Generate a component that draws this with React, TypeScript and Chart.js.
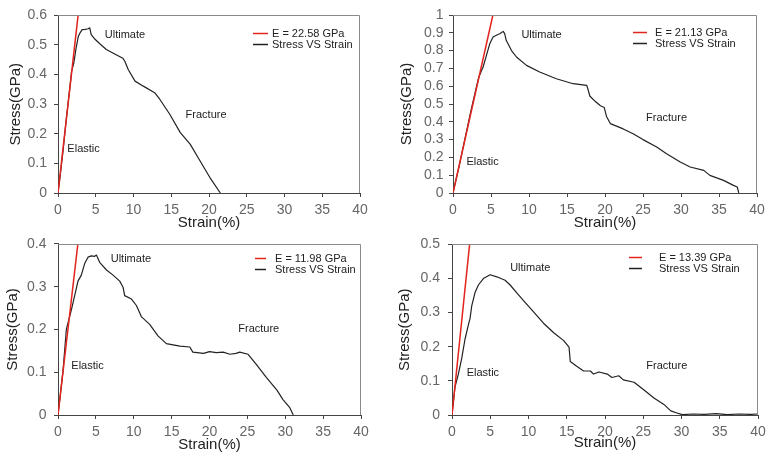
import React, { useEffect, useRef } from "react";
import { Chart, registerables } from "chart.js";

Chart.register(...registerables);

// ---------- data ----------
const xTickValues = [0, 5, 10, 15, 20, 25, 30, 35, 40];

const p1YTicks = [0, 0.1, 0.2, 0.3, 0.4, 0.5, 0.6];
const p2YTicks = [0, 0.1, 0.2, 0.3, 0.4, 0.5, 0.6, 0.7, 0.8, 0.9, 1];
const p3YTicks = [0, 0.1, 0.2, 0.3, 0.4];
const p4YTicks = [0, 0.1, 0.2, 0.3, 0.4, 0.5];

const fitLabels = ["E = 22.58 GPa", "E = 21.13 GPa", "E = 11.98 GPa", "E = 13.39 GPa"];
const curveLabel = "Stress VS Strain";
const regionLabels = ["Ultimate", "Fracture", "Elastic"];

// Panel 1
const p1FitStrain = [0, 2.66];
const p1FitStress = [0, 0.6];
const p1Strain = [0, 0.3, 0.7, 1.1, 1.5, 1.8, 2.1, 2.4, 2.7, 2.9, 3.2, 3.6, 4.0, 4.2, 4.4, 4.8, 5.5, 6.4, 7.7, 8.6, 8.85, 9.3, 10.2, 11.3, 12.8, 13.5, 14.8, 16.2, 17.5, 18.8, 20.1, 21.5];
const p1Stress = [0, 0.06, 0.15, 0.25, 0.34, 0.41, 0.44, 0.49, 0.53, 0.54, 0.552, 0.553, 0.555, 0.558, 0.535, 0.522, 0.505, 0.485, 0.467, 0.455, 0.445, 0.417, 0.378, 0.361, 0.339, 0.316, 0.266, 0.204, 0.165, 0.109, 0.053, 0];

// Panel 2
const p2FitStrain = [0, 5.25];
const p2FitStress = [0, 1];
const p2Strain = [0, 0.8, 1.6, 2.4, 3.0, 3.4, 3.96, 4.4, 4.84, 5.27, 5.71, 6.15, 6.6, 6.8, 7.0, 7.7, 8.35, 9.67, 11.4, 13.6, 15.8, 17.6, 17.8, 18.0, 18.7, 19.4, 19.9, 20.2, 20.7, 22.4, 23.7, 25.0, 26.8, 28.1, 29.9, 31.2, 33.0, 33.8, 35.6, 36.9, 37.4, 37.6];
const p2Stress = [0, 0.15, 0.31, 0.47, 0.58, 0.652, 0.708, 0.773, 0.839, 0.876, 0.886, 0.895, 0.908, 0.895, 0.858, 0.8, 0.764, 0.717, 0.68, 0.642, 0.614, 0.605, 0.577, 0.545, 0.515, 0.49, 0.48, 0.43, 0.39, 0.36, 0.333, 0.3, 0.258, 0.221, 0.174, 0.146, 0.127, 0.099, 0.071, 0.043, 0.034, 0];

// Panel 3
const p3FitStrain = [0, 2.62];
const p3FitStress = [0, 0.4];
const p3Strain = [0, 0.66, 1.1, 1.76, 2.2, 2.64, 3.08, 3.52, 3.96, 4.4, 4.85, 5.07, 5.5, 6.4, 7.27, 8.15, 8.6, 8.8, 9.7, 10.35, 11.0, 12.1, 13.2, 14.3, 16.1, 17.4, 17.8, 19.2, 20.0, 20.9, 21.8, 22.7, 23.5, 24.0, 25.1, 26.2, 27.5, 28.9, 29.7, 30.6, 31.06];
const p3Stress = [0, 0.103, 0.2, 0.245, 0.279, 0.313, 0.327, 0.354, 0.369, 0.372, 0.371, 0.374, 0.357, 0.339, 0.327, 0.313, 0.298, 0.279, 0.271, 0.256, 0.23, 0.212, 0.185, 0.167, 0.161, 0.159, 0.147, 0.144, 0.148, 0.146, 0.147, 0.142, 0.144, 0.147, 0.142, 0.118, 0.088, 0.058, 0.036, 0.017, 0];

// Panel 4
const p4FitStrain = [0, 2.3];
const p4FitStress = [0, 0.5];
const p4Strain = [0, 0.39, 0.83, 1.27, 1.7, 2.14, 2.36, 2.58, 3.0, 3.45, 4.1, 4.98, 5.85, 6.94, 7.6, 8.47, 9.35, 10.66, 11.96, 13.3, 14.6, 15.3, 15.46, 16.3, 17.2, 18.1, 18.5, 19.2, 20.3, 20.9, 21.8, 22.4, 23.8, 25.1, 26.4, 27.7, 28.6, 29.4, 30.1, 31.5, 33.0, 34.5, 36.0, 37.5, 39.0, 40];
const p4Stress = [0, 0.082, 0.12, 0.166, 0.222, 0.264, 0.283, 0.32, 0.358, 0.381, 0.4, 0.411, 0.405, 0.395, 0.381, 0.358, 0.335, 0.302, 0.269, 0.241, 0.218, 0.199, 0.157, 0.143, 0.129, 0.129, 0.12, 0.126, 0.12, 0.11, 0.115, 0.103, 0.096, 0.073, 0.05, 0.031, 0.012, 0.006, 0.001, 0.003, 0.002, 0.004, 0.001, 0.003, 0.002, 0.003];

// region label anchors (data coordinates: strain, stress) for Ultimate, Fracture, Elastic
const p1LabelAt = [[6.2, 0.535], [16.9, 0.264], [1.24, 0.15]];
const p2LabelAt = [[9.0, 0.89], [25.4, 0.423], [1.76, 0.174]];
const p3LabelAt = [[6.96, 0.365], [23.8, 0.202], [1.76, 0.114]];
const p4LabelAt = [[7.6, 0.431], [25.4, 0.143], [1.92, 0.122]];

// ---------- layout / style ----------
const FONT = "'Liberation Sans', Arial, Helvetica, sans-serif";

const panels = [
  { left: 0, top: 0, w: 385, h: 234, padTop: 14, padRight: 25, yW: 58, xH: 41, yTitlePad: 7, xTitlePad: 2, yTickPad: 7, max: 0.6, yTicks: p1YTicks, fitX: p1FitStrain, fitY: p1FitStress, sx: p1Strain, sy: p1Stress, labelAt: p1LabelAt, fit: fitLabels[0], leg: { x: 195, y: 18, len: 15, tx: 19 } },
  { left: 385, top: 0, w: 386, h: 234, padTop: 15, padRight: 14, yW: 68, xH: 41, yTitlePad: 13, xTitlePad: 2, yTickPad: 5.5, max: 1, yTicks: p2YTicks, fitX: p2FitStrain, fitY: p2FitStress, sx: p2Strain, sy: p2Stress, labelAt: p2LabelAt, fit: fitLabels[1], leg: { x: 180, y: 17, len: 14, tx: 22 } },
  { left: 0, top: 228, w: 385, h: 229, padTop: 8, padRight: 24, yW: 58, xH: 42, yTitlePad: 4, xTitlePad: 3, yTickPad: 7.5, max: 0.4, yTicks: p3YTicks, fitX: p3FitStrain, fitY: p3FitStress, sx: p3Strain, sy: p3Stress, labelAt: p3LabelAt, fit: fitLabels[2], leg: { x: 197, y: 14, len: 11, tx: 20 } },
  { left: 385, top: 228, w: 386, h: 229, padTop: 8, padRight: 13, yW: 67, xH: 42, yTitlePad: 11, xTitlePad: 5, yTickPad: 8, max: 0.5, yTicks: p4YTicks, fitX: p4FitStrain, fitY: p4FitStress, sx: p4Strain, sy: p4Stress, labelAt: p4LabelAt, fit: fitLabels[3], leg: { x: 177, y: 13, len: 13, tx: 30 } },
];

const RED = "#e3241e";
const BLACK = "#222222";

function Panel({ cfg }: { cfg: any }) {
  const ref = useRef<HTMLCanvasElement>(null);
  useEffect(() => {
    const canvas = ref.current!;
    const pts = (xs: number[], ys: number[]) => xs.map((x, i) => ({ x, y: ys[i] }));

    const extras = {
      id: "extras",
      afterDraw(chart: any) {
        const { ctx, chartArea: a, scales } = chart;
        const xs = scales.x;
        const ys = scales.y;
        ctx.save();
        // top & right frame
        ctx.strokeStyle = "#8a8a8a";
        ctx.lineWidth = 1;
        ctx.beginPath();
        const t = Math.round(a.top) + 0.5;
        const r = Math.round(a.right) - 0.5;
        ctx.moveTo(Math.round(a.left), t);
        ctx.lineTo(r, t);
        ctx.lineTo(r, Math.round(a.bottom));
        ctx.stroke();

        // region labels
        ctx.font = `11px ${FONT}`;
        ctx.fillStyle = "#222";
        ctx.textAlign = "left";
        ctx.textBaseline = "middle";
        regionLabels.forEach((txt, i) => {
          const [dx, dy] = cfg.labelAt[i];
          ctx.fillText(txt, xs.getPixelForValue(dx), ys.getPixelForValue(dy));
        });

        // legend
        const items = chart.data.datasets;
        items.forEach((ds: any, i: number) => {
          const lx = a.left + cfg.leg.x;
          const ly = Math.round(a.top + cfg.leg.y + i * 11) + 0.5;
          ctx.strokeStyle = ds.borderColor;
          ctx.lineWidth = 1.5;
          ctx.beginPath();
          ctx.moveTo(lx, ly);
          ctx.lineTo(lx + cfg.leg.len, ly);
          ctx.stroke();
          ctx.fillStyle = "#222";
          ctx.fillText(ds.label, lx + cfg.leg.tx, ly);
        });
        ctx.restore();
      },
    };

    const chart = new Chart(canvas, {
      type: "line",
      data: {
        datasets: [
          {
            label: cfg.fit,
            data: pts(cfg.fitX, cfg.fitY),
            borderColor: RED,
            borderWidth: 1.5,
            pointRadius: 0,
            tension: 0,
          },
          {
            label: curveLabel,
            data: pts(cfg.sx, cfg.sy),
            borderColor: BLACK,
            borderWidth: 1.2,
            pointRadius: 0,
            tension: 0,
            borderJoinStyle: "round",
          },
        ],
      },
      options: {
        animation: false,
        responsive: false,
        maintainAspectRatio: false,
        events: [],
        layout: { padding: { top: cfg.padTop, right: cfg.padRight, left: 0, bottom: 0 } },
        plugins: { legend: { display: false }, tooltip: { enabled: false } },
        scales: {
          x: {
            type: "linear",
            min: 0,
            max: 40,
            afterBuildTicks: (s: any) => {
              s.ticks = xTickValues.map((v) => ({ value: v }));
            },
            afterFit: (s: any) => {
              s.height = cfg.xH;
            },
            ticks: {
              autoSkip: false,
              maxRotation: 0,
              padding: 4.6,
              color: "#666",
              font: { family: FONT, size: 14 },
              callback: (v: any) => String(v),
            },
            grid: { drawOnChartArea: false, color: "#444", tickLength: 4, tickWidth: 1 },
            border: { color: "#444", width: 1 },
            title: {
              display: true,
              text: "Strain(%)",
              color: "#222",
              font: { family: FONT, size: 15 },
              padding: { top: 0, bottom: cfg.xTitlePad },
            },
          },
          y: {
            type: "linear",
            min: 0,
            max: cfg.max,
            afterBuildTicks: (s: any) => {
              s.ticks = cfg.yTicks.map((v: number) => ({ value: v }));
            },
            afterFit: (s: any) => {
              s.width = cfg.yW;
            },
            ticks: {
              autoSkip: false,
              padding: cfg.yTickPad,
              color: "#666",
              font: { family: FONT, size: 14 },
              callback: (v: any) => String(Number(Number(v).toFixed(2))),
            },
            grid: { drawOnChartArea: false, color: "#444", tickLength: 4, tickWidth: 1 },
            border: { color: "#444", width: 1 },
            title: {
              display: true,
              text: "Stress(GPa)",
              color: "#222",
              font: { family: FONT, size: 15 },
              padding: { top: cfg.yTitlePad, bottom: 0 },
            },
          },
        },
      },
      plugins: [extras],
    } as any);
    return () => chart.destroy();
  }, []);
  return (
    <canvas
      ref={ref}
      width={cfg.w}
      height={cfg.h}
      style={{ position: "absolute", left: cfg.left, top: cfg.top, width: cfg.w, height: cfg.h }}
    />
  );
}

export default function App() {
  return (
    <div style={{ position: "absolute", left: 0, top: 0, width: 771, height: 457, background: "#fff", overflow: "hidden" }}>
      {panels.map((p, i) => (
        <Panel key={i} cfg={p} />
      ))}
    </div>
  );
}
